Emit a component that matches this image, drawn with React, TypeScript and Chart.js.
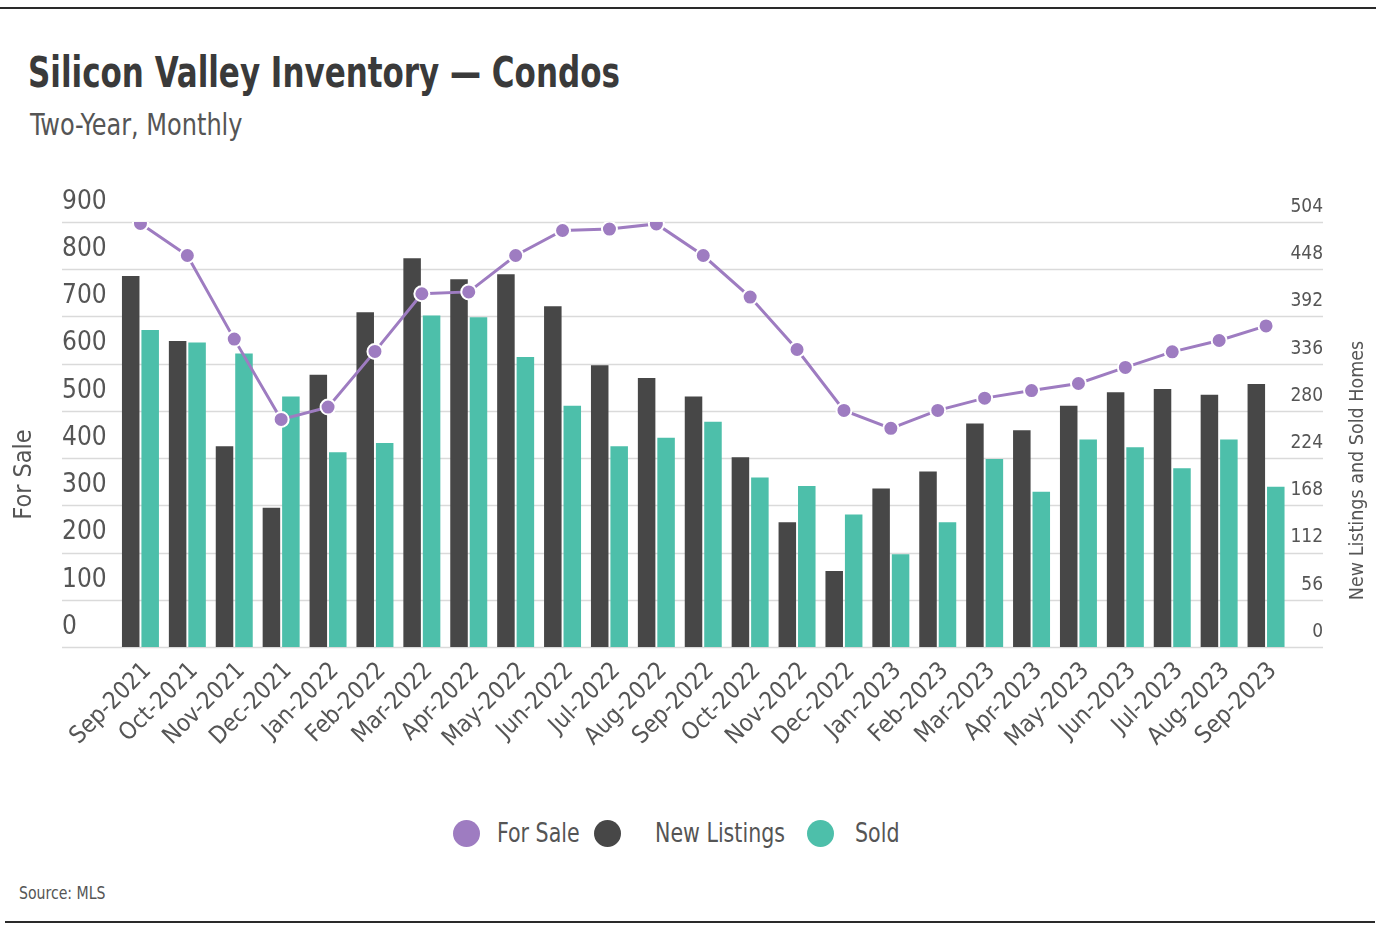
import React, { useEffect, useRef } from "react";
import { Chart, registerables } from "chart.js";

Chart.register(...registerables);

const months = [
  "Sep-2021", "Oct-2021", "Nov-2021", "Dec-2021", "Jan-2022", "Feb-2022", "Mar-2022",
  "Apr-2022", "May-2022", "Jun-2022", "Jul-2022", "Aug-2022", "Sep-2022", "Oct-2022",
  "Nov-2022", "Dec-2022", "Jan-2023", "Feb-2023", "Mar-2023", "Apr-2023", "May-2023",
  "Jun-2023", "Jul-2023", "Aug-2023", "Sep-2023",
];

const forSale = [
  897, 829, 652, 482, 508, 626, 748, 752, 829, 882, 885, 896, 829, 741,
  630, 501, 463, 501, 527, 543, 558, 592, 625, 649, 680,
];

const newListings = [
  440, 363, 238, 165, 323, 397, 461, 436, 442, 404, 334, 319, 297, 225,
  148, 90, 188, 208, 265, 257, 286, 302, 306, 299, 312,
];

const sold = [
  376, 361, 348, 297, 231, 242, 393, 391, 344, 286, 238, 248, 267, 201,
  191, 157, 110, 148, 223, 184, 246, 237, 212, 246, 190,
];

const leftMax = 900;
const leftStep = 100;
const rightMax = 504;
const rightStep = 56;

const seriesNames = ["For Sale", "New Listings", "Sold"];

const FONT = '"DejaVu Sans Condensed", "DejaVu Sans", sans-serif';
const PURPLE = "#9e7cc1";
const DARK = "#474747";
const TEAL = "#4dbfaa";
const TEXT = "#555555";
const seriesColors = [PURPLE, DARK, TEAL];

const extGridPlugin = {
  id: "extGrid",
  beforeDatasetsDraw(chart: any) {
    const y = chart.scales.y;
    const y1 = chart.scales.y1;
    const ctx = chart.ctx;
    ctx.save();
    ctx.strokeStyle = "#dadada";
    ctx.lineWidth = 1.5;
    y.ticks.forEach((_t: any, i: number) => {
      const py = Math.round(y.getPixelForTick(i)) + 0.5;
      ctx.beginPath();
      ctx.moveTo(y.left, py);
      ctx.lineTo(y1.right, py);
      ctx.stroke();
    });
    ctx.restore();
  },
  afterDraw(chart: any) {
    const y = chart.scales.y;
    const y1 = chart.scales.y1;
    const ctx = chart.ctx;
    const cy = (chart.chartArea.top + chart.chartArea.bottom) / 2 + 40;
    ctx.save();
    ctx.fillStyle = TEXT;
    ctx.textAlign = "center";
    ctx.textBaseline = "middle";
    ctx.font = `25px ${FONT}`;
    ctx.translate(y.left - 38, cy);
    ctx.rotate(-Math.PI / 2);
    ctx.fillText("For Sale", 0, 0);
    ctx.restore();
    ctx.save();
    ctx.fillStyle = TEXT;
    ctx.textAlign = "center";
    ctx.textBaseline = "middle";
    ctx.font = `19.5px ${FONT}`;
    ctx.translate(y1.right + 35, cy - 4);
    ctx.rotate(-Math.PI / 2);
    ctx.fillText("New Listings and Sold Homes", 0, 0);
    ctx.restore();
  },
};

const legendPos = [
  { dot: 453, text: 497 },
  { dot: 594, text: 655 },
  { dot: 807, text: 855 },
];

export default function App() {
  const ref = useRef<HTMLCanvasElement>(null);

  useEffect(() => {
    if (!ref.current) return;
    const chart = new Chart(ref.current, {
      type: "bar",
      data: {
        labels: months,
        datasets: [
          {
            type: "line",
            label: seriesNames[0],
            data: forSale,
            yAxisID: "y",
            borderColor: PURPLE,
            backgroundColor: PURPLE,
            borderWidth: 3,
            pointRadius: 7.5,
            pointBorderWidth: 2,
            pointBorderColor: "#ffffff",
            pointBackgroundColor: PURPLE,
            tension: 0,
            order: 0,
          } as any,
          {
            type: "bar",
            label: seriesNames[1],
            data: newListings,
            yAxisID: "y1",
            backgroundColor: DARK,
            barPercentage: 0.9,
            categoryPercentage: 0.83,
            order: 1,
          },
          {
            type: "bar",
            label: seriesNames[2],
            data: sold,
            yAxisID: "y1",
            backgroundColor: TEAL,
            barPercentage: 0.9,
            categoryPercentage: 0.83,
            order: 2,
          },
        ],
      },
      options: {
        animation: false,
        responsive: true,
        maintainAspectRatio: false,
        layout: { padding: { left: 62, right: 63, top: 62, bottom: 0 } },
        plugins: {
          tooltip: { enabled: false },
          legend: { display: false },
        },
        scales: {
          x: {
            grid: { display: false },
            border: { display: false },
            ticks: {
              color: TEXT,
              font: { family: FONT, size: 24 },
              maxRotation: 45,
              minRotation: 45,
              autoSkip: false,
              padding: 2,
              labelOffset: 7,
            },
            afterFit(scale: any) {
              scale.height = 155;
            },
          },
          y: {
            position: "left",
            min: 0,
            max: leftMax,
            grid: { display: false },
            border: { display: false },
            ticks: {
              stepSize: leftStep,
              color: TEXT,
              crossAlign: "far",
              labelOffset: -20,
              font: { family: FONT, size: 26 },
            },
            afterFit(scale: any) {
              scale.width = 55;
            },
          },
          y1: {
            position: "right",
            min: 0,
            max: rightMax,
            grid: { display: false },
            border: { display: false },
            ticks: {
              stepSize: rightStep,
              color: TEXT,
              crossAlign: "far",
              labelOffset: -15,
              font: { family: FONT, size: 19 },
            },
            afterFit(scale: any) {
              scale.width = 33.5;
            },
          },
        },
      },
      plugins: [extGridPlugin],
    });
    return () => chart.destroy();
  }, []);

  return (
    <div>
      <div style={{ position: "absolute", left: 0, top: 7, width: 1376, height: 2, background: "#2a2a2a" }} />
      <div
        style={{
          position: "absolute",
          left: 28,
          top: 52,
          fontFamily: FONT,
          fontWeight: "bold",
          fontSize: 42,
          lineHeight: "42px",
          color: "#3a3a3a",
          whiteSpace: "nowrap",
          transform: "scaleX(0.82)",
          transformOrigin: "0 0",
        }}
      >
        Silicon Valley Inventory — Condos
      </div>
      <div
        style={{
          position: "absolute",
          left: 30,
          top: 110,
          fontFamily: FONT,
          fontSize: 30,
          lineHeight: "30px",
          color: TEXT,
          whiteSpace: "nowrap",
          transform: "scaleX(0.89)",
          transformOrigin: "0 0",
        }}
      >
        Two-Year, Monthly
      </div>
      <div style={{ position: "absolute", left: 0, top: 160, width: 1386, height: 642 }}>
        <canvas ref={ref} />
      </div>
      {seriesNames.map((name, i) => (
        <React.Fragment key={name}>
          <div
            style={{
              position: "absolute",
              left: legendPos[i].dot,
              top: 820,
              width: 27,
              height: 27,
              borderRadius: "50%",
              background: seriesColors[i],
            }}
          />
          <div
            style={{
              position: "absolute",
              left: legendPos[i].text,
              top: 818,
              fontFamily: FONT,
              fontSize: 26,
              lineHeight: "30px",
              color: TEXT,
              whiteSpace: "nowrap",
              transform: "scaleX(0.88)",
              transformOrigin: "0 0",
            }}
          >
            {name}
          </div>
        </React.Fragment>
      ))}
      <div
        style={{
          position: "absolute",
          left: 19,
          top: 884,
          fontFamily: FONT,
          fontSize: 18,
          lineHeight: "18px",
          color: TEXT,
          whiteSpace: "nowrap",
          transform: "scaleX(0.87)",
          transformOrigin: "0 0",
        }}
      >
        Source: MLS
      </div>
      <div style={{ position: "absolute", left: 5, top: 921, width: 1370, height: 2, background: "#2a2a2a" }} />
    </div>
  );
}
